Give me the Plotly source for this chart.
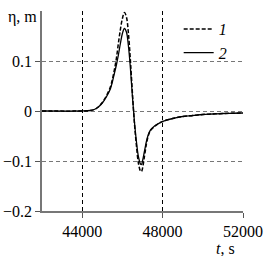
import plotly.graph_objects as go

t1 = [42000, 44000, 44400, 44600, 44800, 45000, 45200, 45400, 45500, 45600, 45700, 45800, 45900,
      46000, 46100, 46200, 46300, 46400, 46500, 46600, 46700, 46800, 46900, 46950, 47000, 47100,
      47200, 47300, 47400, 47600, 47800, 48000, 48500, 49000, 49500, 50000, 50500, 51000, 51500, 52000]
eta1 = [0, 0, 0.001, 0.003, 0.008, 0.017, 0.030, 0.048, 0.063, 0.082, 0.105, 0.135, 0.163,
        0.185, 0.197, 0.188, 0.155, 0.100, 0.035, -0.025, -0.070, -0.105, -0.120, -0.121, -0.115, -0.090,
        -0.065, -0.048, -0.039, -0.031, -0.025, -0.021, -0.015, -0.011, -0.009, -0.007, -0.006, -0.005, -0.0045, -0.004]

t2 = t1
eta2 = [0, 0, 0.001, 0.003, 0.008, 0.016, 0.028, 0.044, 0.058, 0.075, 0.092, 0.112, 0.135,
        0.155, 0.165, 0.158, 0.130, 0.085, 0.028, -0.022, -0.062, -0.092, -0.106, -0.107, -0.100, -0.080,
        -0.060, -0.046, -0.038, -0.030, -0.025, -0.021, -0.015, -0.011, -0.009, -0.007, -0.006, -0.005, -0.0045, -0.004]

xticks = [44000, 48000, 52000]
yticks = [-0.2, -0.1, 0, 0.1]
yticklabels = ["\u22120.2", "\u22120.1", "0", "0.1"]

FONT = "Liberation Serif"

fig = go.Figure()
fig.add_trace(go.Scatter(x=t1, y=eta1, mode="lines", name="<i>1</i>", line_shape="spline",
                         line=dict(color="black", width=1.5, dash="4px,2px")))
fig.add_trace(go.Scatter(x=t2, y=eta2, mode="lines", name="<i>2</i>", line_shape="spline",
                         line=dict(color="black", width=1.3)))

fig.update_layout(
    width=266, height=256,
    margin=dict(l=42, r=23, t=11, b=45),
    paper_bgcolor="white", plot_bgcolor="white",
    font=dict(family=FONT, size=16, color="black"),
    showlegend=True,
    legend=dict(x=0.68, y=0.995, xanchor="left", yanchor="top", bgcolor="rgba(0,0,0,0)",
                font=dict(family=FONT, size=16), itemwidth=30, tracegroupgap=0),
    xaxis=dict(range=[42000, 52000], tickvals=xticks, ticktext=[str(v) for v in xticks],
               showline=True, linecolor="#777777", linewidth=1.5, automargin=False,
               ticks="outside", ticklen=5, tickcolor="#555555",
               tickfont=dict(family=FONT, size=16),
               showgrid=True, gridcolor="black", griddash="4px,3px", gridwidth=1,
               zeroline=False),
    yaxis=dict(range=[-0.2, 0.2], tickvals=yticks, ticktext=yticklabels,
               showline=True, linecolor="#777777", linewidth=1.5, automargin=False,
               ticks="outside", ticklen=5, tickcolor="#555555",
               tickfont=dict(family=FONT, size=16),
               showgrid=True, gridcolor="#777777", griddash="4px,3px", gridwidth=1,
               zeroline=False),
    annotations=[
        dict(text="\u03b7, m", xref="paper", yref="paper", x=-0.18, y=0.97, xanchor="left",
             yanchor="middle", showarrow=False, font=dict(family=FONT, size=16)),
        dict(text="<i>t</i>, s", xref="paper", yref="paper", x=0.97, y=-0.185, xanchor="right",
             yanchor="middle", showarrow=False, font=dict(family=FONT, size=16)),
    ],
)

fig.write_html("out.html", config={"displayModeBar": False},
               post_script="document.body.style.margin='0';")
